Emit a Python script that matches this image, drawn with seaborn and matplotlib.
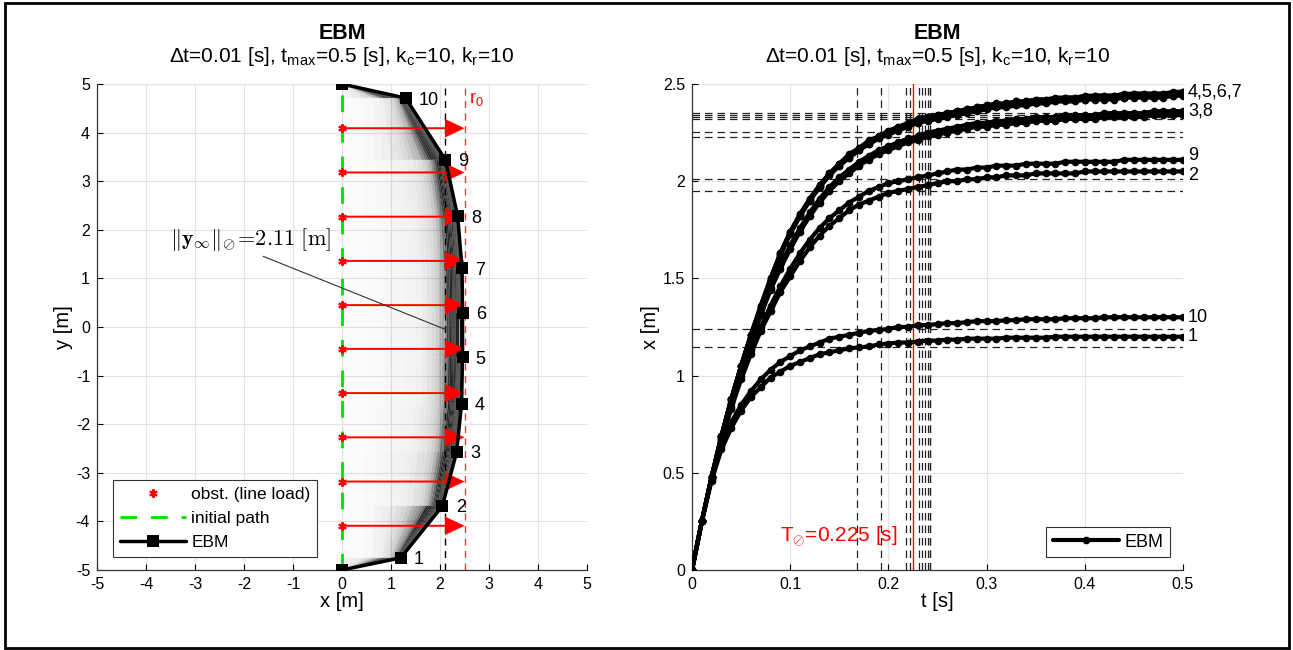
import numpy as np
import pandas as pd
import matplotlib
matplotlib.use("Agg")
import matplotlib.pyplot as plt
import seaborn as sns
from matplotlib.collections import PolyCollection
from matplotlib.patches import Rectangle
from matplotlib.lines import Line2D
from matplotlib.ticker import FuncFormatter

# ---------------- data ----------------
dt = 0.01
node_ids = [1, 2, 3, 4, 5, 6, 7, 8, 9, 10]

x_node1 = [0.00, 0.25, 0.46, 0.62, 0.73, 0.82, 0.89, 0.94, 0.99, 1.02,
           1.05, 1.07, 1.09, 1.11, 1.12, 1.13, 1.14, 1.145, 1.15, 1.16,
           1.165, 1.17, 1.17, 1.175, 1.18, 1.18, 1.185, 1.185, 1.19, 1.19,
           1.19, 1.19, 1.195, 1.195, 1.195, 1.195, 1.195, 1.20, 1.20, 1.20,
           1.20, 1.20, 1.20, 1.20, 1.20, 1.20, 1.20, 1.20, 1.20, 1.20,
           1.20]
x_node2 = [0.00, 0.25, 0.48, 0.67, 0.83, 0.98, 1.11, 1.23, 1.33, 1.43,
           1.51, 1.59, 1.66, 1.72, 1.77, 1.81, 1.85, 1.88, 1.90, 1.92,
           1.94, 1.95, 1.96, 1.97, 1.98, 1.99, 2.00, 2.00, 2.01, 2.01,
           2.02, 2.02, 2.03, 2.03, 2.03, 2.04, 2.04, 2.04, 2.04, 2.04,
           2.05, 2.05, 2.05, 2.05, 2.05, 2.05, 2.05, 2.05, 2.05, 2.05,
           2.05]
x_node3 = [0.00, 0.25, 0.48, 0.68, 0.86, 1.02, 1.17, 1.31, 1.44, 1.55,
           1.65, 1.74, 1.82, 1.89, 1.95, 2.00, 2.04, 2.08, 2.11, 2.14,
           2.16, 2.18, 2.20, 2.21, 2.23, 2.24, 2.25, 2.26, 2.27, 2.28,
           2.28, 2.29, 2.29, 2.30, 2.30, 2.31, 2.31, 2.31, 2.32, 2.32,
           2.32, 2.32, 2.33, 2.33, 2.33, 2.33, 2.33, 2.34, 2.34, 2.34,
           2.34]
x_node4 = [0.00, 0.25, 0.48, 0.69, 0.88, 1.05, 1.21, 1.35, 1.49, 1.62,
           1.73, 1.82, 1.90, 1.97, 2.03, 2.08, 2.12, 2.16, 2.19, 2.22,
           2.24, 2.26, 2.28, 2.30, 2.31, 2.32, 2.33, 2.34, 2.35, 2.36,
           2.37, 2.38, 2.38, 2.39, 2.39, 2.40, 2.40, 2.41, 2.41, 2.41,
           2.42, 2.42, 2.42, 2.42, 2.43, 2.43, 2.43, 2.43, 2.43, 2.44,
           2.44]
x_node5 = [0.00, 0.25, 0.48, 0.69, 0.88, 1.05, 1.21, 1.36, 1.50, 1.63,
           1.74, 1.83, 1.91, 1.98, 2.04, 2.09, 2.13, 2.17, 2.20, 2.23,
           2.25, 2.28, 2.29, 2.31, 2.33, 2.34, 2.35, 2.36, 2.37, 2.38,
           2.39, 2.39, 2.40, 2.41, 2.41, 2.42, 2.42, 2.42, 2.43, 2.43,
           2.43, 2.44, 2.44, 2.44, 2.44, 2.45, 2.45, 2.45, 2.45, 2.45,
           2.46]
x_node6 = [0.00, 0.25, 0.48, 0.69, 0.88, 1.05, 1.21, 1.36, 1.50, 1.63,
           1.74, 1.83, 1.91, 1.98, 2.04, 2.09, 2.14, 2.17, 2.21, 2.23,
           2.26, 2.28, 2.30, 2.32, 2.33, 2.34, 2.35, 2.36, 2.37, 2.38,
           2.39, 2.40, 2.40, 2.41, 2.41, 2.42, 2.42, 2.43, 2.43, 2.43,
           2.44, 2.44, 2.44, 2.44, 2.45, 2.45, 2.45, 2.45, 2.45, 2.46,
           2.46]
x_node7 = [0.00, 0.25, 0.48, 0.69, 0.88, 1.05, 1.21, 1.35, 1.49, 1.62,
           1.73, 1.82, 1.90, 1.97, 2.03, 2.08, 2.12, 2.16, 2.19, 2.22,
           2.25, 2.27, 2.29, 2.30, 2.32, 2.33, 2.34, 2.35, 2.36, 2.37,
           2.38, 2.38, 2.39, 2.39, 2.40, 2.40, 2.41, 2.41, 2.42, 2.42,
           2.42, 2.43, 2.43, 2.43, 2.43, 2.44, 2.44, 2.44, 2.44, 2.44,
           2.45]
x_node8 = [0.00, 0.25, 0.48, 0.68, 0.87, 1.03, 1.18, 1.32, 1.45, 1.57,
           1.67, 1.76, 1.84, 1.91, 1.97, 2.02, 2.06, 2.10, 2.13, 2.16,
           2.18, 2.20, 2.22, 2.23, 2.25, 2.26, 2.27, 2.28, 2.29, 2.30,
           2.30, 2.31, 2.31, 2.32, 2.32, 2.33, 2.33, 2.33, 2.34, 2.34,
           2.34, 2.34, 2.35, 2.35, 2.35, 2.35, 2.35, 2.36, 2.36, 2.36,
           2.36]
x_node9 = [0.00, 0.25, 0.48, 0.67, 0.84, 1.00, 1.13, 1.25, 1.36, 1.46,
           1.55, 1.63, 1.70, 1.76, 1.81, 1.85, 1.89, 1.92, 1.95, 1.97,
           1.99, 2.00, 2.01, 2.02, 2.03, 2.04, 2.05, 2.06, 2.06, 2.07,
           2.07, 2.08, 2.08, 2.08, 2.09, 2.09, 2.09, 2.09, 2.10, 2.10,
           2.10, 2.10, 2.10, 2.10, 2.11, 2.11, 2.11, 2.11, 2.11, 2.11,
           2.11]
x_node10 = [0.00, 0.25, 0.47, 0.64, 0.76, 0.85, 0.92, 0.98, 1.03, 1.07,
            1.10, 1.13, 1.15, 1.17, 1.19, 1.20, 1.21, 1.22, 1.23, 1.235,
            1.24, 1.25, 1.25, 1.26, 1.26, 1.265, 1.27, 1.27, 1.275, 1.28,
            1.28, 1.28, 1.285, 1.285, 1.29, 1.29, 1.29, 1.29, 1.295, 1.295,
            1.295, 1.295, 1.30, 1.30, 1.30, 1.30, 1.30, 1.30, 1.30, 1.30,
            1.30]
x_hist = [x_node1, x_node2, x_node3, x_node4, x_node5,
          x_node6, x_node7, x_node8, x_node9, x_node10]

# final y of the nodes (left plot) and path end points
node_y = [-4.75, -3.68, -2.57, -1.58, -0.62, 0.29, 1.21, 2.28, 3.44, 4.71]
y_start, y_end = -5.0, 5.0
x_start, x_end = 0.0, 0.0

# obstacles (line load)
obs_y = [-4.09, -3.18, -2.27, -1.36, -0.45, 0.45, 1.36, 2.27, 3.18, 4.09]
r0 = 2.5
y_inf_norm = 2.11

# settling (95 %) times and values per node, mean settling time
T_settle = [0.168, 0.218, 0.231, 0.237, 0.242, 0.242, 0.240, 0.234, 0.222, 0.192]
x_settle = [1.146, 1.950, 2.226, 2.320, 2.342, 2.352, 2.331, 2.255, 2.010, 1.238]
T_mean = 0.225

group_labels = ["4,5,6,7", "3,8", "9", "2", "10", "1"]
group_nodes = [5, 8, 9, 2, 10, 1]
group_label_shift = [0.0, 0.0, 0.02, -0.02, 0.0, 0.0]

# ---------------- style ----------------
sns.set_theme(style="white")
plt.rcParams.update({
    "font.family": ["Liberation Sans", "DejaVu Sans"],
    "mathtext.fontset": "custom",
    "mathtext.rm": "Liberation Sans",
    "mathtext.it": "Liberation Sans:italic",
    "mathtext.bf": "Liberation Sans:bold",
    "axes.unicode_minus": False,
    "xtick.direction": "in", "ytick.direction": "in",
    "xtick.bottom": True, "ytick.left": True,
    "xtick.major.size": 4, "ytick.major.size": 4,
    "xtick.major.width": 0.8, "ytick.major.width": 0.8,
    "xtick.color": "black", "ytick.color": "black",
    "text.color": "black", "axes.labelcolor": "black",
    "axes.edgecolor": "#333333", "axes.linewidth": 0.9,
    "font.size": 11,
})

W, H = 1293, 650
fig = plt.figure(figsize=(W / 100, H / 100), dpi=100)
ax1 = fig.add_axes([97 / W, 1 - 570 / H, 490 / W, 486 / H])
ax2 = fig.add_axes([692 / W, 1 - 570 / H, 491 / W, 486 / H])

for ax in (ax1, ax2):
    ax.grid(True, color="#e3e3e3", lw=0.8)
    ax.set_axisbelow(True)
    for s in ("top", "right"):
        ax.spines[s].set_visible(False)
    ax.tick_params(labelsize=11.5, pad=5)

fmt = FuncFormatter(lambda v, p: f"{v:g}")

# ---------------- left plot ----------------
K = min(len(v) for v in x_hist)
ys = [y_start] + node_y + [y_end]
paths = [[x_start] + [x_hist[n][k] for n in range(10)] + [x_end] for k in range(K)]
polys, cols = [], []
for k in range(K - 1):
    xa, xb = paths[k], paths[k + 1]
    for j in range(len(ys) - 1):
        gap = 0.5 * ((xb[j] - xa[j]) + (xb[j + 1] - xa[j + 1]))
        a = min(0.85, (0.03 / max(gap, 1e-6)) ** 2)
        polys.append([(xa[j], ys[j]), (xa[j + 1], ys[j + 1]),
                      (xb[j + 1], ys[j + 1]), (xb[j], ys[j])])
        cols.append((0, 0, 0, a))
ax1.add_collection(PolyCollection(polys, facecolors=cols, edgecolors="none", zorder=1))

ax1.plot(np.zeros(len(ys)), ys, color="#00e000", lw=2, dashes=(6, 5), zorder=2)
ax1.axvline(y_inf_norm, color="black", lw=1, dashes=(5, 4), zorder=2)
ax1.axvline(r0, color="#ff3040", lw=1, dashes=(5, 4), zorder=2)
ax1.quiver(np.zeros(len(obs_y)), obs_y, np.full(len(obs_y), r0), np.zeros(len(obs_y)),
           angles="xy", scale_units="xy", scale=1, color="red", width=0.004,
           headwidth=9.5, headlength=10, headaxislength=10, zorder=4)
ax1.plot(np.zeros(len(obs_y)), obs_y, ls="none", marker=(6, 2, 0), color="red",
         ms=6, mew=1.5, zorder=5)

final_x = [x_start] + [v[-1] for v in x_hist] + [x_end]
sns.lineplot(x=final_x, y=ys, sort=False, estimator=None, color="black", lw=2.5,
             marker="s", markersize=8, markeredgewidth=0, ax=ax1, zorder=6)
for n, xv, yv in zip(node_ids, final_x[1:-1], node_y):
    ax1.text(xv + 0.27, yv - 0.04, str(n), ha="left", va="center", fontsize=13, zorder=7)
ax1.text(r0 + 0.1, 4.7, r"r$_0$", color="red", ha="left", va="center", fontsize=13)

ax1.annotate(r"$\|\mathbf{y}_{\infty}\|_{\oslash}\!=\!2.11\ [\mathrm{m}]$",
             xy=(y_inf_norm, -0.05), xytext=(-3.52, 1.8), ha="left", va="center",
             fontsize=16, math_fontfamily="cm",
             arrowprops=dict(arrowstyle="-", color="#333333", lw=0.8,
                             shrinkA=0, shrinkB=0, relpos=(0.53, 0.0)), zorder=8)

ax1.set_xlim(-5, 5)
ax1.set_ylim(-5, 5)
ax1.set_xticks(np.arange(-5, 6, 1))
ax1.set_yticks(np.arange(-5, 6, 1))
ax1.xaxis.set_major_formatter(fmt)
ax1.yaxis.set_major_formatter(fmt)
ax1.set_xlabel("x [m]", fontsize=14.5, labelpad=0)
ax1.set_ylabel("y [m]", fontsize=14.5, labelpad=2)

leg_handles = [
    Line2D([], [], ls="none", marker=(6, 2, 0), color="red", ms=6, mew=1.5),
    Line2D([], [], color="#00e000", lw=2, dashes=(6, 5)),
    Line2D([], [], color="black", lw=2.5, marker="s", ms=8, markeredgewidth=0),
]
lg1 = ax1.legend(leg_handles, ["obst. (line load)", "initial path", "EBM"],
                 loc="lower left", bbox_to_anchor=(0.033, 0.027), borderaxespad=0,
                 fontsize=12.5, handlelength=3.8, fancybox=False, framealpha=1,
                 edgecolor="#333333", labelspacing=0.5, handletextpad=0.3,
                 borderpad=0.4)
lg1.get_frame().set_linewidth(0.8)

sub = r"$\Delta$t=0.01 [s], t$_{\rm max}$=0.5 [s], k$_{\rm c}$=10, k$_{\rm r}$=10"
for ax in (ax1, ax2):
    ax.text(0.5, 1.093, "EBM", transform=ax.transAxes, ha="center", va="baseline",
            fontsize=15.5, fontweight="bold")
    ax.text(0.5, 1.045, sub, transform=ax.transAxes, ha="center", va="baseline",
            fontsize=15)

# ---------------- right plot ----------------
df = pd.DataFrame({
    "t": np.concatenate([np.arange(len(v)) * dt for v in x_hist]),
    "x": np.concatenate([np.asarray(v) for v in x_hist]),
    "node": np.concatenate([[n] * len(v) for n, v in zip(node_ids, x_hist)]),
})
for v in x_settle:
    ax2.axhline(v, color="#222222", lw=0.9, dashes=(6, 4), zorder=1)
for tv in T_settle:
    ax2.axvline(tv, color="#222222", lw=0.9, dashes=(6, 4), zorder=1)
ax2.axvline(T_mean, color="red", lw=1, zorder=2)

sns.lineplot(data=df, x="t", y="x", units="node", estimator=None, sort=False,
             color="black", lw=3, marker="o", markersize=5.5, markeredgewidth=0,
             legend=False, ax=ax2, zorder=3)

for lab, n, sh in zip(group_labels, group_nodes, group_label_shift):
    ax2.text(0.505, x_hist[n - 1][-1] + sh, lab, ha="left", va="center", fontsize=13)
ax2.text(0.09, 0.17, r"T$_{\oslash}$=0.225 [s]", color="red", ha="left",
         va="center", fontsize=15)

ax2.set_xlim(0, 0.5)
ax2.set_ylim(0, 2.5)
ax2.set_xticks(np.arange(0, 0.51, 0.1))
ax2.set_yticks(np.arange(0, 2.51, 0.5))
ax2.xaxis.set_major_formatter(fmt)
ax2.yaxis.set_major_formatter(fmt)
ax2.set_xlabel("t [s]", fontsize=14.5, labelpad=0)
ax2.set_ylabel("x [m]", fontsize=14.5, labelpad=2)

lg2 = ax2.legend([Line2D([], [], color="black", lw=3, marker="o", ms=5.5,
                         markeredgewidth=0)], ["EBM"],
                 loc="lower right", bbox_to_anchor=(0.974, 0.027), borderaxespad=0,
                 fontsize=13, handlelength=3.7, fancybox=False, framealpha=1,
                 edgecolor="#333333", handletextpad=0.3, borderpad=0.35)
lg2.get_frame().set_linewidth(0.8)

fig.add_artist(Rectangle((5 / W, 2 / H), 1284 / W, 645 / H, transform=fig.transFigure,
                         fill=False, lw=2, ec="black"))

fig.savefig("out.png", dpi=100)
